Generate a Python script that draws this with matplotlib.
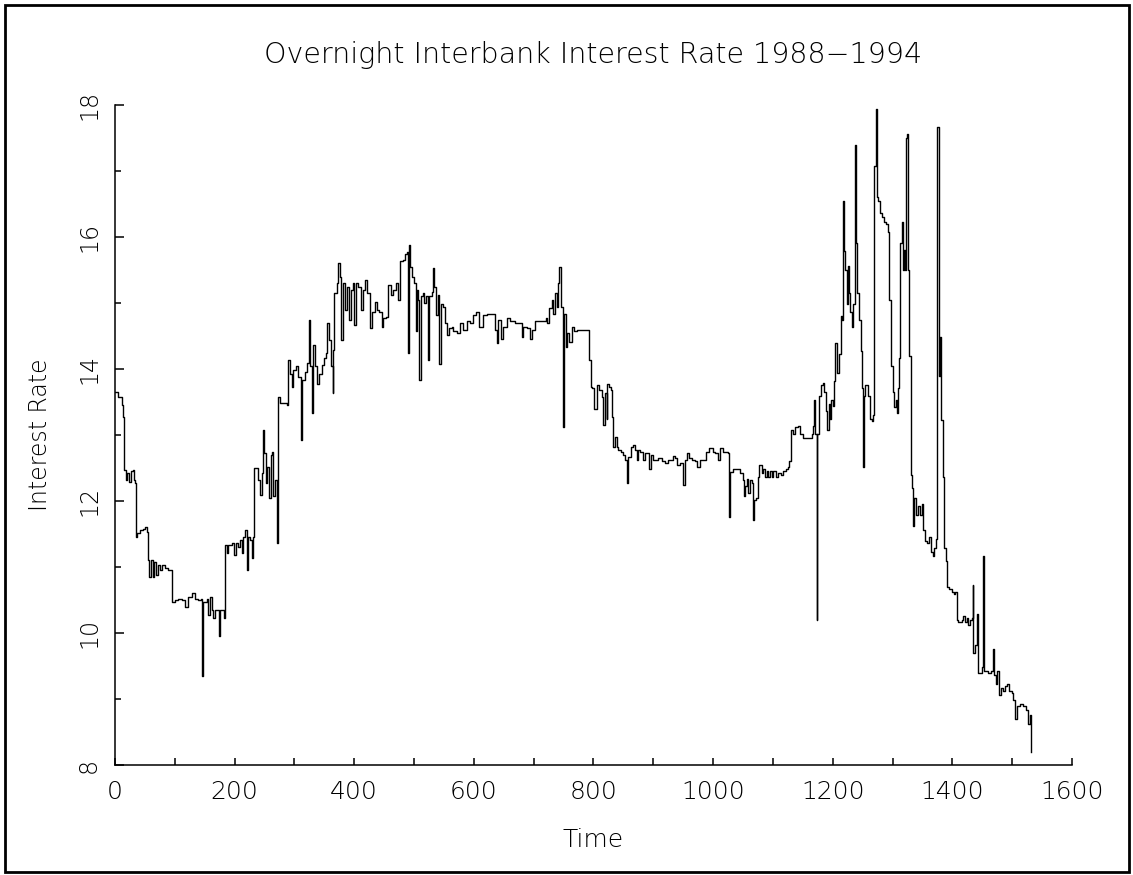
import matplotlib
matplotlib.use("Agg")
import matplotlib.pyplot as plt
from matplotlib.patches import Rectangle
from matplotlib.ticker import MultipleLocator

# overnight interbank rate, trading day index vs rate (%)
day = [
    0, 5.6, 11, 14, 15, 18.4, 20.6, 24, 26, 29.5, 31.8, 33.4, 34.5, 36.2, 41.8, 47.4, 50.2, 53,
    55.7, 57.4, 60.8, 63, 65.8, 68.6, 71.4, 75.2, 79.2, 83.6, 89.2, 94.8, 95.9, 100.3, 105.9,
    111.5, 117.1, 122.6, 128.2, 133.8, 139.3, 143.3, 145.5, 146, 147.2, 153.3, 156.1, 158.9,
    161.7, 164.4, 167.2, 171.1, 173.4, 175.6, 181.2, 182.8, 184, 186.7, 189.5, 195.1, 199,
    202.3, 206.2, 209, 211.8, 214.6, 217.4, 220.2, 223, 225.8, 228.5, 230.2, 232.4, 235.8,
    239.7, 242.5, 245.3, 248, 249.7, 252, 254.7, 257, 260.3, 262.5, 264.8, 267.6, 270.3, 272,
    276, 281.5, 287, 289.9, 292.6, 295.4, 298.2, 302.7, 306.6, 310.5, 312.2, 315, 317.7,
    320.5, 323.9, 326.1, 328.9, 330.6, 334.4, 337.2, 341.7, 345.6, 349.5, 352.8, 355, 358.4,
    361.2, 364, 365.1, 366.8, 370.7, 373.5, 376.3, 378, 380.7, 384.6, 388.5, 391.9, 394.7,
    397.4, 400.2, 403, 406.9, 410.8, 414.2, 418, 420.9, 426.4, 429.2, 434.8, 437.6, 442, 446,
    448.7, 453.2, 457, 461, 465.4, 469.3, 472.7, 476.6, 481, 485, 487.7, 489.4, 491, 493.3,
    496.1, 500, 502.8, 504.5, 507.2, 509, 511.1, 514.5, 517.3, 520.1, 522.9, 525.7, 529.6,
    531.2, 533.4, 536.2, 539.6, 542.5, 545.2, 549, 551.9, 555.8, 559.1, 563, 565.8, 571.4,
    577, 582.5, 588.1, 593.7, 599.3, 603.7, 609.3, 614.9, 621.6, 631.6, 635.5, 638.3, 641.1,
    645, 649.4, 656.1, 660.6, 668.9, 676.2, 680.1, 682.9, 688.4, 694, 696.8, 702.4, 710.7,
    720.8, 723, 726.4, 730.3, 733, 735.8, 738.6, 741.4, 743, 745.3, 748.6, 749.8, 751.5,
    754.2, 756.5, 759.8, 763.7, 767.6, 772.1, 780.4, 791.6, 793.2, 795.5, 798, 801.5, 805.4,
    809.9, 813.8, 816.6, 819.4, 822.2, 823.3, 826.6, 830, 831.1, 833.3, 836.1, 838.9, 841.7,
    845.6, 850, 852.8, 855.6, 858.4, 862.3, 865.6, 869.5, 872.3, 875.1, 877.9, 882.4, 886.3,
    890.2, 893.5, 896.3, 900.2, 905.8, 908.6, 914.1, 919.7, 925.3, 932.5, 936.4, 940.3,
    944.8, 949.3, 950.4, 953.2, 956, 960.4, 964.3, 969.9, 972.7, 978.2, 983.8, 988.3, 993.8,
    999.4, 1003.3, 1007.8, 1011.7, 1016.2, 1021.7, 1024.5, 1026.2, 1028.4, 1032.9, 1039.6,
    1045.1, 1049.6, 1051.8, 1054, 1056.3, 1059.1, 1061.9, 1064.7, 1066.3, 1068.5, 1071.9,
    1074.7, 1077.5, 1081.4, 1084.2, 1087, 1089.7, 1092.5, 1095.3, 1098.1, 1100.9, 1105.4,
    1109.3, 1113.2, 1117.6, 1122.1, 1126, 1127.7, 1129.9, 1133.2, 1137.1, 1142.7, 1145.5,
    1151, 1159.4, 1165, 1167.8, 1169.5, 1171.1, 1173.4, 1174.5, 1177.8, 1180.6, 1183.4,
    1186.2, 1189, 1191.2, 1193.4, 1195.7, 1197.9, 1200.1, 1202.3, 1204.6, 1207.9, 1210.7,
    1213.5, 1216.3, 1218, 1219.6, 1221.3, 1223.5, 1225.2, 1226.9, 1229.1, 1231.9, 1234.7,
    1236.9, 1238.6, 1241.4, 1244.2, 1246.9, 1248.6, 1250.3, 1252, 1254.2, 1257, 1259.8,
    1262.5, 1265.9, 1268.1, 1269.8, 1272.6, 1274.2, 1276.5, 1279.3, 1282.1, 1286, 1289.3,
    1292.1, 1294.9, 1297.7, 1300.5, 1303.2, 1306, 1308.3, 1309.9, 1311.6, 1313.3, 1315.5,
    1317.2, 1319.4, 1321, 1322.7, 1325, 1326.6, 1328.3, 1330.5, 1332.7, 1335, 1336.7, 1339.5,
    1343.4, 1346.1, 1349, 1351.7, 1354.5, 1358.4, 1361.8, 1364.5, 1367.3, 1370.1, 1372.9,
    1374, 1375.1, 1377.4, 1379.6, 1381.8, 1384, 1386.8, 1389.1, 1391.9, 1395.2, 1399.1, 1403,
    1405.2, 1407.5, 1410.3, 1415.8, 1418.6, 1421.4, 1424.2, 1427, 1429.8, 1432.5, 1434.2,
    1435.3, 1438.1, 1440.9, 1442.6, 1446.5, 1449.3, 1451, 1452.6, 1456.5, 1460.4, 1464.3,
    1467.7, 1469.9, 1472.7, 1475.5, 1478.3, 1481, 1484.4, 1488.3, 1492.2, 1495.5, 1499.4,
    1502.2, 1505, 1507.8, 1513.4, 1518.9, 1523.4, 1527.3, 1530.1, 1531.8,
]
rate = [
    13.65, 13.58, 13.45, 13.28, 12.47, 12.32, 12.43, 12.29, 12.46, 12.47, 12.32, 12.27, 11.46,
    11.51, 11.56, 11.58, 11.61, 11.53, 11.1, 10.85, 11.1, 10.85, 11.08, 10.88, 11.03, 10.95,
    11.03, 10.98, 10.95, 10.95, 10.47, 10.5, 10.52, 10.5, 10.4, 10.55, 10.61, 10.52, 10.5,
    10.52, 10.5, 9.35, 10.47, 10.52, 10.27, 10.55, 10.35, 10.22, 10.35, 10.35, 9.95, 10.35,
    10.35, 10.22, 11.33, 11.21, 11.33, 11.36, 11.18, 11.36, 11.31, 11.41, 11.21, 11.46, 11.56,
    10.95, 11.46, 11.41, 11.13, 11.46, 12.5, 12.5, 12.32, 12.09, 12.42, 13.08, 12.72, 12.27,
    12.52, 12.04, 12.7, 12.75, 12.07, 12.32, 11.36, 13.58,
    13.48, 13.48, 13.45, 14.14, 13.93, 13.73, 13.98, 14.04, 13.88, 12.93, 13.83, 13.83, 13.96,
    14.09, 14.74, 14.04, 13.33, 14.36, 14.04, 13.78, 13.93, 14.06, 14.16, 14.24, 14.69, 14.44,
    14.04, 13.63, 14.29, 15.15, 15.3, 15.6, 15.4, 14.44, 15.3, 14.89, 15.25, 14.74, 15.2,
    15.3, 14.67, 15.3, 15.25, 14.89, 15.2, 15.35, 15.15, 14.62, 14.87, 15.02, 14.89, 14.87,
    14.64, 14.77, 14.79, 15.27, 15.12, 15.2, 15.3, 15.05, 15.63, 15.65, 15.75, 15.78, 14.24,
    15.88, 15.55, 15.4, 15.3, 14.57, 15.2, 15.05, 13.83, 15.1, 15.15, 15.0, 15.1, 14.14, 15.1,
    15.17, 15.53, 15.25, 14.82, 15.12, 14.08, 14.99, 14.94, 14.69, 14.51, 14.62, 14.64, 14.57,
    14.54, 14.69, 14.59, 14.72, 14.69, 14.82, 14.87, 14.64, 14.82, 14.84, 14.84, 14.59, 14.39,
    14.74, 14.46, 14.64, 14.77, 14.72, 14.69, 14.69, 14.49, 14.64, 14.62, 14.46, 14.59, 14.72,
    14.72, 14.77, 14.69, 14.92, 15.05, 14.84, 15.15, 14.94, 15.3, 15.55, 14.94, 14.79, 13.12,
    14.84, 14.34, 14.54, 14.41, 14.64, 14.57, 14.59, 14.59, 14.59, 14.14, 13.73, 13.71, 13.4,
    13.76, 13.68, 13.58, 13.15, 13.63, 13.25, 13.78, 13.73, 13.68, 13.28, 12.82, 12.97, 12.82,
    12.77, 12.75, 12.7, 12.62, 12.27, 12.67, 12.82, 12.85, 12.77, 12.62, 12.77, 12.75, 12.62,
    12.72, 12.72, 12.49, 12.7, 12.62, 12.62, 12.65, 12.6, 12.57, 12.62, 12.68, 12.65, 12.55,
    12.57, 12.49, 12.24, 12.62, 12.72, 12.65, 12.62, 12.6, 12.52, 12.62, 12.62, 12.75, 12.8,
    12.75, 12.72, 12.62, 12.8, 12.75, 12.75, 12.72, 11.76, 12.44, 12.49, 12.49, 12.42, 12.32,
    12.07, 12.22, 12.34, 12.12, 12.32, 12.27, 11.71, 12.02, 12.04, 12.37, 12.54, 12.43, 12.49,
    12.37, 12.46, 12.36, 12.46, 12.37, 12.46, 12.36, 12.43, 12.4, 12.46, 12.49, 12.52, 12.6,
    13.07, 13.01, 13.12, 13.14, 13.01, 12.95, 12.95, 13.01, 13.13, 13.53, 13.01, 10.2, 13.01,
    13.59, 13.76, 13.79, 13.65, 13.36, 13.07, 13.47, 13.24, 13.53, 13.44, 13.82, 14.4, 13.94,
    14.23, 14.81, 14.75, 16.55, 15.79, 15.5, 14.98, 15.56, 15.15, 14.86, 14.63, 14.98, 17.39,
    15.91, 15.15, 14.75, 14.28, 13.71, 12.52, 13.59, 13.76, 13.76, 13.59, 13.24, 13.21, 13.3,
    17.07, 17.94, 16.6, 16.55, 16.37, 16.31, 16.23, 16.2, 16.08, 15.04, 14.05, 13.65, 13.42,
    13.53, 13.33, 13.71, 14.17, 15.91, 16.23, 15.5, 15.8, 15.5, 17.5, 17.56, 15.5, 14.2, 12.4,
    12.2, 11.62, 12.05, 11.79, 11.93, 11.79, 11.96, 11.56, 11.39, 11.36, 11.46, 11.23, 11.16,
    11.29, 11.43, 14.69, 17.66, 13.89, 14.49, 13.23, 12.36, 11.29, 11.09, 10.69, 10.66, 10.62,
    10.59, 10.62, 10.19, 10.16, 10.19, 10.26, 10.16, 10.22, 10.12, 10.19, 10.22, 10.72, 9.69,
    9.82, 10.29, 9.39, 9.39, 9.49, 11.16, 9.42, 9.42, 9.39, 9.42, 9.76, 9.36, 9.22, 9.42, 9.06,
    9.16, 9.12, 9.19, 9.22, 9.12, 9.09, 8.99, 8.69, 8.89, 8.92, 8.89, 8.83, 8.62, 8.76, 8.19,
]

xticks = [0, 200, 400, 600, 800, 1000, 1200, 1400, 1600]
yticks = [8, 10, 12, 14, 16, 18]

plt.rcParams['font.family'] = 'DejaVu Sans'
plt.rcParams['font.weight'] = 'light'
plt.rcParams['axes.titleweight'] = 'light'
plt.rcParams['axes.labelweight'] = 'light'

fig = plt.figure(figsize=(11.33, 8.75), dpi=100)
ax = fig.add_axes([0.1015, 0.1257, 0.8446, 0.7543])

ax.plot(day, rate, color='black', lw=1.0, drawstyle='steps-post')

ax.set_xlim(0, 1600)
ax.set_ylim(8, 18)
ax.set_xticks(xticks)
ax.set_yticks(yticks)
ax.xaxis.set_minor_locator(MultipleLocator(100))
ax.yaxis.set_minor_locator(MultipleLocator(1))

for side in ['top', 'right']:
    ax.spines[side].set_visible(False)
for side in ['left', 'bottom']:
    ax.spines[side].set_linewidth(1.1)

ax.tick_params(axis='x', which='both', direction='in', length=5, width=1.1,
               labelsize=18, pad=11)
ax.tick_params(axis='y', which='major', direction='in', length=6.5, width=1.1,
               labelsize=17, pad=10, labelrotation=90)
ax.tick_params(axis='y', which='minor', direction='in', length=4.3, width=1.1)
for lbl in ax.get_yticklabels():
    lbl.set_verticalalignment('center')

ax.set_title('Overnight Interbank Interest Rate 1988\u22121994', fontsize=20.5, pad=30)
ax.set_xlabel('Time', fontsize=18, labelpad=17)
ax.set_ylabel('Interest Rate', fontsize=17, labelpad=18)

# frame round the whole page
fig.add_artist(Rectangle((5 / 1133, 3 / 875), 1124 / 1133, 867 / 875,
                         transform=fig.transFigure, fill=False,
                         edgecolor='black', lw=2))

fig.savefig('out.png', dpi=100)
